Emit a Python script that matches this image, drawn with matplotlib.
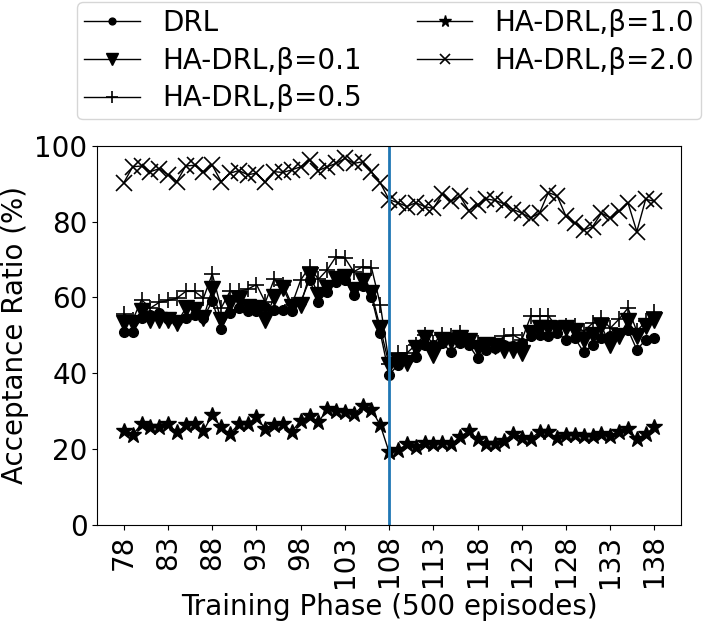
import numpy as np
from matplotlib import pyplot as plt

phase = np.arange(78, 139)

drl = [50.8, 50.8, 54.5, 55.5, 55.9, 54.3, 53.7, 54.6, 55.5, 54.6,
       59.0, 51.8, 56.0, 57.2, 56.3, 56.5, 57.5, 56.7, 56.7, 56.3,
       58.9, 64.6, 58.9, 61.5, 64.1, 64.6, 60.7, 62.9, 60.2, 50.6,
       39.6, 42.2, 43.5, 44.4, 47.5, 47.5, 47.9, 45.7, 47.9, 47.5,
       44.0, 46.2, 46.6, 47.5, 47.1, 47.9, 49.7, 50.1, 49.7, 50.6,
       48.8, 49.3, 45.5, 47.5, 49.3, 49.7, 50.6, 51.5, 46.2, 48.8,
       49.3]

beta01 = [53.2, 53.2, 56.5, 54.0, 54.0, 54.0, 53.2, 57.2, 56.8, 54.6,
          62.2, 54.0, 58.5, 59.6, 57.6, 57.2, 54.1, 60.2, 62.4, 57.6,
          58.1, 66.0, 60.7, 62.4, 64.8, 65.5, 62.0, 64.4, 61.1, 51.9,
          42.2, 43.1, 42.6, 46.6, 49.3, 44.8, 48.8, 48.4, 49.3, 48.4,
          46.6, 47.5, 47.1, 46.2, 46.2, 45.3, 50.6, 51.9, 51.9, 51.7,
          51.9, 51.1, 48.8, 50.1, 52.4, 47.5, 49.7, 53.9, 49.7, 52.4,
          54.1]

beta05 = [55.7, 54.0, 59.4, 57.2, 58.7, 59.2, 59.8, 61.6, 61.6, 59.8,
          66.2, 57.2, 61.6, 61.6, 62.2, 63.4, 58.7, 64.8, 63.4, 58.1,
          64.6, 68.1, 64.8, 67.3, 70.8, 70.4, 66.8, 68.1, 67.9, 58.1,
          42.5, 45.3, 45.3, 47.5, 50.1, 47.9, 50.1, 49.7, 50.6, 48.4,
          47.9, 47.5, 47.9, 49.7, 50.1, 48.8, 55.0, 55.0, 55.2, 51.9,
          52.4, 52.5, 51.1, 53.2, 54.6, 51.9, 54.3, 57.2, 51.1, 53.7,
          56.1]

beta10 = [24.8, 23.7, 26.6, 25.7, 25.7, 26.6, 24.4, 26.2, 26.6, 24.8,
          29.0, 25.7, 24.0, 26.6, 26.6, 28.4, 25.3, 26.2, 26.6, 24.6,
          27.5, 28.8, 27.0, 30.6, 30.1, 29.7, 29.2, 31.3, 30.4, 26.3,
          19.1, 19.6, 21.3, 20.4, 21.6, 21.3, 21.6, 21.3, 23.1, 24.8,
          22.6, 21.3, 21.3, 22.2, 24.0, 22.8, 22.6, 24.6, 24.4, 22.8,
          23.7, 23.7, 23.3, 23.3, 24.0, 23.5, 24.4, 25.3, 22.6, 24.0,
          25.7]

beta20 = [90.3, 94.5, 94.7, 93.2, 94.0, 92.4, 90.6, 94.7, 94.9, 93.2,
          94.9, 90.6, 92.8, 93.5, 92.4, 92.8, 90.4, 93.2, 93.0, 93.7,
          94.5, 96.3, 93.5, 94.5, 95.4, 96.7, 95.4, 95.8, 93.2, 90.2,
          85.8, 85.0, 84.0, 85.0, 84.0, 83.5, 87.3, 85.4, 86.8, 82.9,
          84.5, 86.0, 85.6, 84.7, 83.2, 82.3, 81.0, 82.3, 87.7, 86.8,
          81.4, 79.6, 77.8, 78.7, 82.3, 81.0, 82.7, 85.0, 77.4, 85.9,
          85.4]

fig = plt.figure(figsize=(7.05, 6.21), dpi=100)
ax = fig.add_axes([0.138, 0.155, 0.828, 0.610])

ax.plot(phase, drl, 'k-o', lw=1, ms=7, label='DRL')
ax.plot(phase, beta01, 'k-v', lw=1, ms=12, label='HA-DRL,β=0.1')
ax.plot(phase, beta05, 'k-+', lw=1, ms=12, mew=1.2, label='HA-DRL,β=0.5')
ax.plot(phase, beta10, 'k-*', lw=1, ms=12, label='HA-DRL,β=1.0')
ax.plot(phase, beta20, 'k-x', lw=1, ms=11, mew=1.2, label='HA-DRL,β=2.0')
ax.axvline(108, color='tab:blue', lw=2)

ax.set_ylim(0, 100)
ax.set_xticks(np.arange(78, 139, 5))
ax.tick_params(axis='x', labelrotation=90, labelsize=20)
ax.tick_params(axis='y', labelsize=20)
ax.set_xlabel('Training Phase (500 episodes)', fontsize=20)
ax.set_ylabel('Acceptance Ratio (%)', fontsize=20)

ax.legend(loc='lower center', bbox_to_anchor=(0.5, 1.07), ncol=2,
          fontsize=20, markerscale=0.7, labelspacing=0.35, borderpad=0.25,
          borderaxespad=0)

fig.savefig('out.png', dpi=100)
